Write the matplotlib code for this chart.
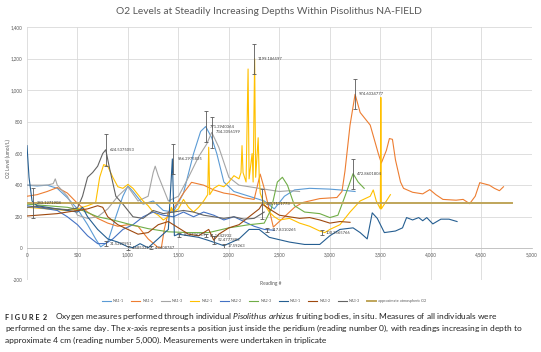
import matplotlib
matplotlib.use("Agg")
import matplotlib.pyplot as plt
from matplotlib.ticker import FuncFormatter

plt.rcParams['font.family'] = ['Lato', 'DejaVu Sans']
plt.rcParams['mathtext.fontset'] = 'custom'
plt.rcParams['mathtext.rm'] = 'Lato'
plt.rcParams['mathtext.it'] = 'Lato:italic'
plt.rcParams['mathtext.bf'] = 'Lato:bold'

# ---- data (reading #, O2 umol/L) ----
na11_x = [0, 100, 200, 300, 400, 500, 600, 680, 730, 800, 880, 950, 1000, 1050, 1150, 1250, 1350, 1450,
          1550, 1650, 1720, 1770, 1830, 1880, 1950, 2050, 2200, 2350, 2450, 2550, 2650, 2800, 3000, 3100, 3250]
na11_y = [400, 395, 400, 380, 320, 250, 150, 60, 10, 40, 200, 330, 395, 360, 280, 300, 240, 230,
          350, 600, 740, 771, 700, 600, 420, 360, 330, 300, 250, 330, 370, 380, 375, 370, 360]

na12_x = [0, 100, 200, 300, 400, 500, 600, 700, 800, 900, 1000, 1100, 1200, 1300, 1330, 1360, 1400, 1450,
          1550, 1630, 1750, 1850, 1950, 2050, 2150, 2250, 2310, 2350, 2440, 2550, 2650, 2730, 2900, 3070,
          3120, 3150, 3200, 3250, 3300, 3400, 3480, 3510, 3560, 3590, 3620, 3650, 3700, 3730, 3820, 3920,
          3990, 4050, 4120, 4250, 4320, 4385, 4440, 4485, 4580, 4630, 4680, 4720]
na12_y = [330, 340, 360, 385, 350, 285, 230, 190, 160, 140, 150, 140, 60, 5, 0, 120, 230, 250,
          350, 418, 400, 370, 350, 340, 320, 310, 470, 380, 135, 200, 260, 290, 315, 322,
          360, 490, 780, 975, 860, 780, 600, 540, 620, 695, 690, 560, 420, 380, 355, 345,
          372, 340, 310, 305, 310, 283, 330, 416, 400, 380, 365, 390]

na13_x = [0, 100, 200, 260, 280, 300, 400, 500, 600, 700, 800, 900, 1000, 1100, 1200, 1250, 1270, 1300,
          1400, 1500, 1600, 1700, 1780, 1830, 1900, 2000, 2100, 2200, 2300, 2400, 2500, 2600, 2700]
na13_y = [400, 400, 400, 410, 440, 400, 330, 210, 190, 200, 250, 330, 390, 300, 330, 480, 520, 460,
          300, 330, 450, 580, 660, 734, 640, 450, 400, 390, 380, 370, 360, 365, 360]

na21_x = [0, 200, 400, 500, 600, 680, 720, 760, 800, 850, 900, 950, 1000, 1050, 1100, 1150, 1200, 1250,
          1300, 1350, 1400, 1430, 1450, 1500, 1550, 1600, 1650, 1700, 1750, 1790, 1800, 1810, 1850, 1900,
          1950, 2000, 2050, 2100, 2120, 2130, 2140, 2170, 2190, 2200, 2230, 2240, 2255, 2265, 2290, 2300,
          2310, 2350, 2400, 2450, 2500, 2600, 2700, 2800, 2900, 2950, 3000, 3100, 3200, 3300, 3400, 3430,
          3460, 3500, 3505, 3510, 3540, 3600]
na21_y = [260, 250, 240, 250, 270, 290, 450, 530, 520, 450, 390, 380, 405, 380, 340, 300, 270, 230,
          210, 180, 200, 260, 230, 250, 310, 260, 230, 260, 300, 340, 640, 340, 380, 400,
          390, 420, 460, 440, 480, 650, 480, 420, 1135, 440, 600, 420, 1199, 450, 700, 460,
          350, 280, 230, 200, 180, 190, 160, 140, 110, 100, 120, 150, 230, 300, 330, 370,
          300, 250, 955, 250, 280, 340]

na22_x = [0, 100, 200, 300, 400, 500, 600, 700, 780, 850, 950, 1050, 1150, 1250, 1350, 1450, 1550, 1650,
          1750, 1850, 1950, 2050, 2150, 2250, 2350, 2450]
na22_y = [270, 260, 250, 240, 200, 150, 80, 30, 31, 60, 120, 150, 200, 230, 210, 200, 230, 200,
          230, 210, 180, 200, 170, 140, 120, 115]

na23_x = [0, 200, 400, 550, 700, 850, 1000, 1200, 1400, 1600, 1800, 2000, 2200, 2350, 2420, 2480, 2530,
          2580, 2650, 2750, 2900, 3000, 3080, 3150, 3230, 3280, 3340]
na23_y = [280, 270, 260, 240, 200, 180, 155, 125, 105, 100, 100, 130, 150, 160, 250, 420, 450,
          400, 270, 230, 220, 195, 210, 330, 473, 420, 380]

na31_x = [0, 20, 50, 100, 200, 300, 400, 500, 550, 600, 700, 800, 900, 1000, 1050, 1120, 1200, 1280,
          1400, 1440, 1460, 1500, 1600, 1700, 1800, 1950, 2100, 2200, 2300, 2400, 2600, 2750, 2900, 3000,
          3100, 3230, 3300, 3370, 3420, 3470, 3540, 3650, 3720, 3760, 3820, 3880, 3920, 3960, 4020, 4100,
          4180, 4260]
na31_y = [650, 450, 300, 270, 260, 250, 240, 230, 260, 200, 120, 60, 40, 10, 5, 30, 4, 50,
          120, 566, 80, 90, 80, 70, 50, 17, 60, 120, 120, 70, 40, 25, 25, 80,
          120, 130, 100, 60, 225, 190, 100, 110, 130, 195, 180, 195, 175, 195, 155, 185,
          185, 170]

na32_x = [0, 100, 200, 300, 400, 500, 600, 700, 750, 800, 900, 1000, 1100, 1200, 1300, 1400, 1500, 1600,
          1700, 1800, 1850, 1900, 2000, 2100, 2200, 2300, 2330, 2400, 2500, 2600, 2700, 2800, 2900, 3000,
          3100, 3200]
na32_y = [205, 210, 215, 220, 230, 240, 250, 270, 260, 200, 150, 120, 90, 100, 150, 170, 130, 90,
          80, 120, 52, 90, 130, 150, 200, 250, 280, 250, 210, 200, 190, 195, 180, 160,
          170, 165]

na33_x = [0, 100, 200, 300, 400, 500, 550, 600, 650, 700, 750, 780, 820, 880, 950, 1050, 1150, 1250,
          1350, 1450, 1550, 1650, 1750, 1850, 1950, 2050, 2150, 2250, 2350]
na33_y = [260, 265, 255, 250, 245, 255, 330, 450, 480, 520, 600, 624, 500, 330, 280, 200, 190, 240,
          220, 230, 240, 230, 210, 200, 190, 200, 185, 190, 230]

atm_x = [0, 4800]
atm_y = [285, 285]

series = [
    ("NA1-1", na11_x, na11_y, "#5B9BD5"),
    ("NA1-2", na12_x, na12_y, "#ED7D31"),
    ("NA1-3", na13_x, na13_y, "#A5A5A5"),
    ("NA2-1", na21_x, na21_y, "#FFC000"),
    ("NA2-2", na22_x, na22_y, "#4472C4"),
    ("NA2-3", na23_x, na23_y, "#70AD47"),
    ("NA3-1", na31_x, na31_y, "#255E91"),
    ("NA3-2", na32_x, na32_y, "#9E480E"),
    ("NA3-3", na33_x, na33_y, "#636363"),
]

# error bars with their value labels
err_x = [60, 780, 780, 1000, 1230, 1450, 1510, 1770, 1770, 1830, 1850, 1950, 2250, 2330, 2380, 2920, 3230, 3250]
err_y = [290, 624, 31, 5, 4, 566, 83, 771, 81, 734, 52, 17, 1199, 280, 117, 100, 473, 975]
err_e = [95, 100, 15, 12, 10, 95, 12, 97, 12, 97, 25, 12, 95, 95, 12, 15, 95, 95]
err_txt = ["283.1271908", "624.5375053", "31.5220951", "4.6853311", "4.3608747", "566.2975835",
           "83.2736219", "771.3940364", "81.1642932", "734.3056199", "52.4777883", "17.59263",
           "1199.186597", "280.1131773", "117.8310265", "100.3565766", "472.8601804", "974.6034777"]

fig = plt.figure(figsize=(5.41, 3.52), dpi=100)
ax = fig.add_axes([0.0499, 0.2045, 0.933, 0.7185])

for name, xs, ys, c in series:
    ax.plot(xs, ys, color=c, lw=0.8, label=name)
ax.plot(atm_x, atm_y, color="#BFA55A", lw=1.4, label="approximate atmospheric O2")

ax.errorbar(err_x, err_y, yerr=err_e, fmt='none', ecolor="#595959", elinewidth=0.6, capsize=1.5, capthick=0.6)
for x, y, t in zip(err_x, err_y, err_txt):
    ax.text(x + 40, y, t, fontsize=3, color="#404040", va='center', ha='left')

ax.set_xlim(0, 5000)
ax.set_ylim(-200, 1400)
ax.set_xticks(range(0, 5001, 500))
ax.set_yticks(range(-200, 1401, 200))
fmt = FuncFormatter(lambda v, p: f"{int(v):,}")
ax.xaxis.set_major_formatter(fmt)
ax.yaxis.set_major_formatter(fmt)
ax.grid(True, color="#D9D9D9", lw=0.6)
ax.set_axisbelow(True)
for s in ['top', 'right', 'left']:
    ax.spines[s].set_visible(False)
ax.spines['bottom'].set_position(('data', 0))
ax.spines['bottom'].set_color("#BFBFBF")
ax.spines['bottom'].set_linewidth(0.6)
ax.tick_params(length=0, labelsize=3.3, labelcolor="#595959", pad=3)

fig.text(0.497, 1 - 12 / 352, "O2 Levels at Steadily Increasing Depths Within Pisolithus NA-FIELD",
         fontsize=7.4, color="#595959", ha='center', va='center')
fig.text(0.5, 1 - 283 / 352, "Reading #", fontsize=3.5, color="#595959", ha='center', va='center')
fig.text(0.016, 0.55, "O2 Level (umol/L)", fontsize=3.5, color="#595959", rotation=90, ha='center', va='center')

handles, labels = ax.get_legend_handles_labels()
fig.legend(handles, labels, loc='center', bbox_to_anchor=(0.488, 1 - 301 / 352), ncol=10, frameon=False,
           fontsize=2.7, handlelength=2.4, columnspacing=2.0, handletextpad=0.5, labelcolor="#595959")

cap = 6.0
fig.text(5 / 541, 1 - 317 / 352, "F I G U R E  2", fontsize=5.2, fontweight='bold', color="#222222", va='center')
fig.text(55 / 541, 1 - 317 / 352,
         r"Oxygen measures performed through individual $\mathit{Pisolithus\ arhizus}$ fruiting bodies, in situ. Measures of all individuals were",
         fontsize=cap, color="#222222", va='center')
fig.text(5 / 541, 1 - 328.5 / 352,
         r"performed on the same day. The $\mathit{x}$-axis represents a position just inside the peridium (reading number 0), with readings increasing in depth to",
         fontsize=cap, color="#222222", va='center')
fig.text(5 / 541, 1 - 340 / 352,
         "approximate 4 cm (reading number 5,000). Measurements were undertaken in triplicate",
         fontsize=cap, color="#222222", va='center')

fig.savefig("out.png", dpi=100)
